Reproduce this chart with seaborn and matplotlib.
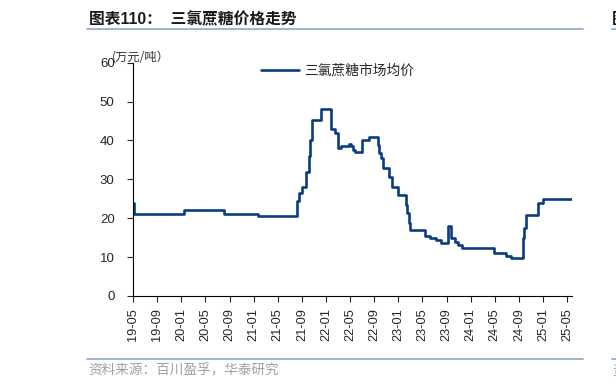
import pandas as pd
import matplotlib.pyplot as plt
import matplotlib.dates as mdates
import seaborn as sns

# breakpoints of the stepped price series (万元/吨)
dates = ["2019-05-01", "2019-05-07", "2020-01-15", "2020-08-06", "2021-01-22",
         "2021-08-06", "2021-08-18", "2021-09-01", "2021-09-19", "2021-10-07",
         "2021-10-13", "2021-10-21", "2021-12-04", "2022-01-27", "2022-02-15",
         "2022-03-03", "2022-03-16", "2022-04-24", "2022-05-07", "2022-05-16",
         "2022-05-28", "2022-07-01", "2022-08-06", "2022-09-18", "2022-09-25",
         "2022-10-06", "2022-10-16", "2022-11-12", "2022-12-01", "2023-01-01",
         "2023-02-06", "2023-02-10", "2023-02-15", "2023-02-21", "2023-03-01",
         "2023-05-16", "2023-06-10", "2023-07-10", "2023-08-04", "2023-09-10",
         "2023-09-24", "2023-10-13", "2023-10-28", "2023-11-18", "2024-04-28",
         "2024-06-28", "2024-07-22", "2024-09-21", "2024-09-27", "2024-10-03",
         "2024-10-07", "2024-12-03", "2025-01-01", "2025-05-24"]
prices = [24.0, 21.0, 22.0, 21.0, 20.5,
          24.4, 26.5, 28.0, 32.0, 36.0,
          40.0, 45.2, 48.0, 43.0, 42.0,
          38.0, 38.5, 39.0, 38.5, 37.5,
          37.0, 40.0, 41.0, 38.8, 36.7,
          35.4, 33.0, 30.7, 28.0, 26.0,
          24.7, 23.4, 21.3, 18.8, 17.0,
          15.4, 14.8, 14.4, 13.7, 18.0,
          14.8, 14.0, 13.1, 12.4, 11.1,
          10.3, 9.8, 14.8, 17.5, 19.5,
          20.8, 23.8, 24.9, 24.9]
series_name = "三氯蔗糖市场均价"

df = pd.DataFrame({"date": pd.to_datetime(dates), "price": prices})

sns.set_style("ticks")
plt.rcParams["font.family"] = ["Liberation Sans", "Noto Sans CJK SC", "DejaVu Sans"]

fig = plt.figure(figsize=(6.16, 3.89), dpi=100)
ax = fig.add_axes([132.7 / 616, 1 - 296 / 389, (571.7 - 132.7) / 616, (296 - 62.7) / 389])

navy = "#0a3d80"
sns.lineplot(data=df, x="date", y="price", ax=ax, color=navy, linewidth=1.9,
             drawstyle="steps-post", label=series_name)

ax.set_xlim(pd.Timestamp("2019-05-01"), pd.Timestamp("2025-05-24"))
ax.set_ylim(0, 60)
ax.set_yticks(range(0, 61, 10))
ax.xaxis.set_major_locator(mdates.MonthLocator(bymonth=[1, 5, 9]))
ax.xaxis.set_major_formatter(mdates.DateFormatter("%y-%m"))
ax.tick_params(axis="x", labelrotation=90, labelsize=9.2, length=4, width=0.8, pad=5)
ax.tick_params(axis="y", labelsize=9.5, length=4, width=0.8, pad=9)
ax.set_xlabel("")
ax.set_ylabel("")
for s in ["top", "right"]:
    ax.spines[s].set_visible(False)
for s in ["left", "bottom"]:
    ax.spines[s].set_color("black")
    ax.spines[s].set_linewidth(0.8)

ax.legend(loc="center left", bbox_to_anchor=(260.7 / 616, 1 - 70.5 / 389),
          bbox_transform=fig.transFigure, frameon=False, borderpad=0,
          borderaxespad=0, handlelength=2.8, handletextpad=0.35,
          prop={"family": ["Noto Sans CJK SC"], "size": 9.9})

fig.text(111.5 / 616, 1 - 57 / 389, "(万元/吨）", fontsize=8.8, va="center",
         ha="left", family=["Noto Sans CJK SC"], color="#333333")

# header and footer
fig.text(89 / 616, 1 - 19 / 389, "图表110：  三氯蔗糖价格走势", fontsize=11.3,
         fontweight="bold", va="center", ha="left",
         family=["Liberation Sans", "Noto Sans CJK SC"], color="#1a1a1a")
fig.text(612 / 616, 1 - 19 / 389, "图", fontsize=11.3, fontweight="bold",
         va="center", ha="left", family=["Noto Sans CJK SC"], color="#1a1a1a")
rule = "#98adc9"
for y in [29.3, 359.3]:
    fig.add_artist(plt.Line2D([87.3 / 616, 582.7 / 616], [1 - y / 389] * 2,
                              transform=fig.transFigure, color=rule, linewidth=1.3))
    fig.add_artist(plt.Line2D([611.7 / 616, 1.0], [1 - y / 389] * 2,
                              transform=fig.transFigure, color=rule, linewidth=1.3))
fig.text(88.3 / 616, 1 - 370.5 / 389, "资料来源：百川盈孚，华泰研究", fontsize=9.8,
         va="center", ha="left", family=["Noto Sans CJK SC"], color="#a0a0a0")
fig.text(612 / 616, 1 - 370.5 / 389, "资", fontsize=9.8, va="center", ha="left",
         family=["Noto Sans CJK SC"], color="#a0a0a0")

fig.savefig("out.png", dpi=100)
